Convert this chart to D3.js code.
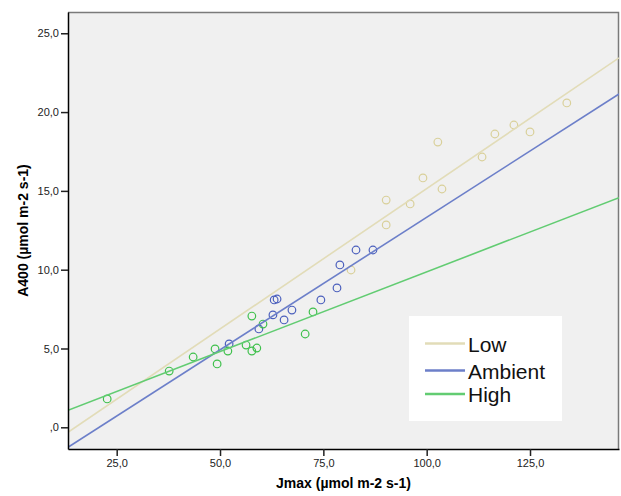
<!DOCTYPE html>
<html><head><meta charset="utf-8">
<script src="https://cdn.jsdelivr.net/npm/d3@7"></script>
<style>body{margin:0;background:#fff}svg{display:block}</style>
</head><body>
<svg id="c" width="621" height="496"></svg>
<script>
const seriesNames = ["Low", "Ambient", "High"];
const seriesColors = ["#d9d09a", "#4c60bd", "#3fc04c"];
const lineColors = ["#e2dcb8", "#6c7fc9", "#62cc72"];

const lowX = [81.7, 90.2, 90.2, 96.0, 99.1, 102.7, 103.7, 113.4, 116.5, 121.1, 125.0, 133.9];
const lowY = [9.98, 12.84, 14.42, 14.17, 15.82, 18.10, 15.12, 17.15, 18.61, 19.18, 18.74, 20.58];
const ambX = [52.2, 59.4, 62.8, 63.1, 63.8, 65.5, 67.4, 74.4, 78.3, 79.0, 82.9, 87.0];
const ambY = [5.29, 6.24, 7.13, 8.08, 8.14, 6.81, 7.44, 8.08, 8.84, 10.30, 11.25, 11.25];
const highX = [22.7, 37.7, 43.5, 48.8, 49.3, 51.9, 56.3, 57.7, 57.7, 58.9, 60.4, 70.6, 72.5];
const highY = [1.80, 3.57, 4.46, 4.97, 4.02, 4.84, 5.22, 7.06, 4.84, 5.03, 6.55, 5.92, 7.32];

// fit lines: [x0, y0, x1, y1]
const lowFit = [13.22, -0.32, 146.53, 23.44];
const ambFit = [13.22, -1.27, 146.53, 21.15];
const highFit = [13.22, 1.08, 146.53, 14.57];

const xTicks = [25, 50, 75, 100, 125];
const yTicks = [0, 5, 10, 15, 20, 25];
const xTitle = "Jmax (µmol m-2 s-1)";
const yTitle = "A400 (µmol m-2 s-1)";

const svg = d3.select("#c");
const L = 68, R = 619, T = 12, B = 449;
const x = d3.scaleLinear().domain([13.22, 146.53]).range([L, R]);
const y = d3.scaleLinear().domain([-1.377, 26.35]).range([B, T]);
const fmt = d => d === 0 ? ",0" : d3.format(".1f")(d).replace(".", ",");

svg.append("rect").attr("x", L).attr("y", T).attr("width", R - L).attr("height", B - T).attr("fill", "#f0f0f0");
svg.append("path").attr("d", `M${L},${T+0.5}H${R-0.5}V${B}`).attr("fill", "none").attr("stroke", "#7a7a7a").attr("stroke-width", 1.5);

const clip = svg.append("clipPath").attr("id", "pc").append("rect").attr("x", L).attr("y", T).attr("width", R - L).attr("height", B - T);
const plot = svg.append("g").attr("clip-path", "url(#pc)");

const pts = [[lowX, lowY], [ambX, ambY], [highX, highY]];
const fits = [lowFit, ambFit, highFit];

pts.forEach((p, i) => {
  plot.append("g").selectAll("circle").data(p[0].map((v, j) => [v, p[1][j]])).join("circle")
    .attr("cx", d => x(d[0])).attr("cy", d => y(d[1])).attr("r", 3.8)
    .attr("fill", "none").attr("stroke", seriesColors[i]).attr("stroke-width", 1.2);
});
fits.forEach((f, i) => {
  plot.append("line").attr("x1", x(f[0])).attr("y1", y(f[1])).attr("x2", x(f[2])).attr("y2", y(f[3]))
    .attr("stroke", lineColors[i]).attr("stroke-width", 1.6);
});

const xa = svg.append("g").attr("transform", `translate(0,${B})`)
  .call(d3.axisBottom(x).tickValues(xTicks).tickFormat(fmt).tickSize(7).tickSizeOuter(0));
const ya = svg.append("g").attr("transform", `translate(${L},0)`)
  .call(d3.axisLeft(y).tickValues(yTicks).tickFormat(fmt).tickSize(7).tickSizeOuter(0));
[xa, ya].forEach(a => {
  a.select(".domain").attr("stroke", "#000").attr("stroke-width", 1.5);
  a.selectAll(".tick line").attr("stroke", "#222").attr("stroke-width", 1.5);
  a.selectAll(".tick text").attr("font-family", "Liberation Sans, Arial, sans-serif").attr("font-size", 11).attr("fill", "#222");
});
xa.selectAll(".tick text").attr("dy", null).attr("y", 18);
ya.selectAll(".tick text").attr("x", -9);

svg.append("text").attr("x", (L + R) / 2).attr("y", 488).attr("text-anchor", "middle")
  .attr("font-family", "Liberation Sans, Arial, sans-serif").attr("font-size", 14).attr("font-weight", "bold").text(xTitle);
svg.append("text").attr("transform", `translate(28,${(T + B) / 2}) rotate(-90)`).attr("text-anchor", "middle")
  .attr("font-family", "Liberation Sans, Arial, sans-serif").attr("font-size", 14).attr("font-weight", "bold").text(yTitle);

const lg = svg.append("g");
lg.append("rect").attr("x", 409).attr("y", 316).attr("width", 153).attr("height", 105).attr("fill", "#fff");
const lineYs = [343.5, 370.5, 394];
seriesNames.forEach((n, i) => {
  lg.append("line").attr("x1", 425).attr("x2", 465).attr("y1", lineYs[i]).attr("y2", lineYs[i])
    .attr("stroke", lineColors[i]).attr("stroke-width", 2.5);
  lg.append("text").attr("x", 468).attr("y", lineYs[i] + 8).attr("font-family", "Liberation Sans, Arial, sans-serif")
    .attr("font-size", 21).attr("fill", "#111").text(n);
});
</script>
</body></html>
